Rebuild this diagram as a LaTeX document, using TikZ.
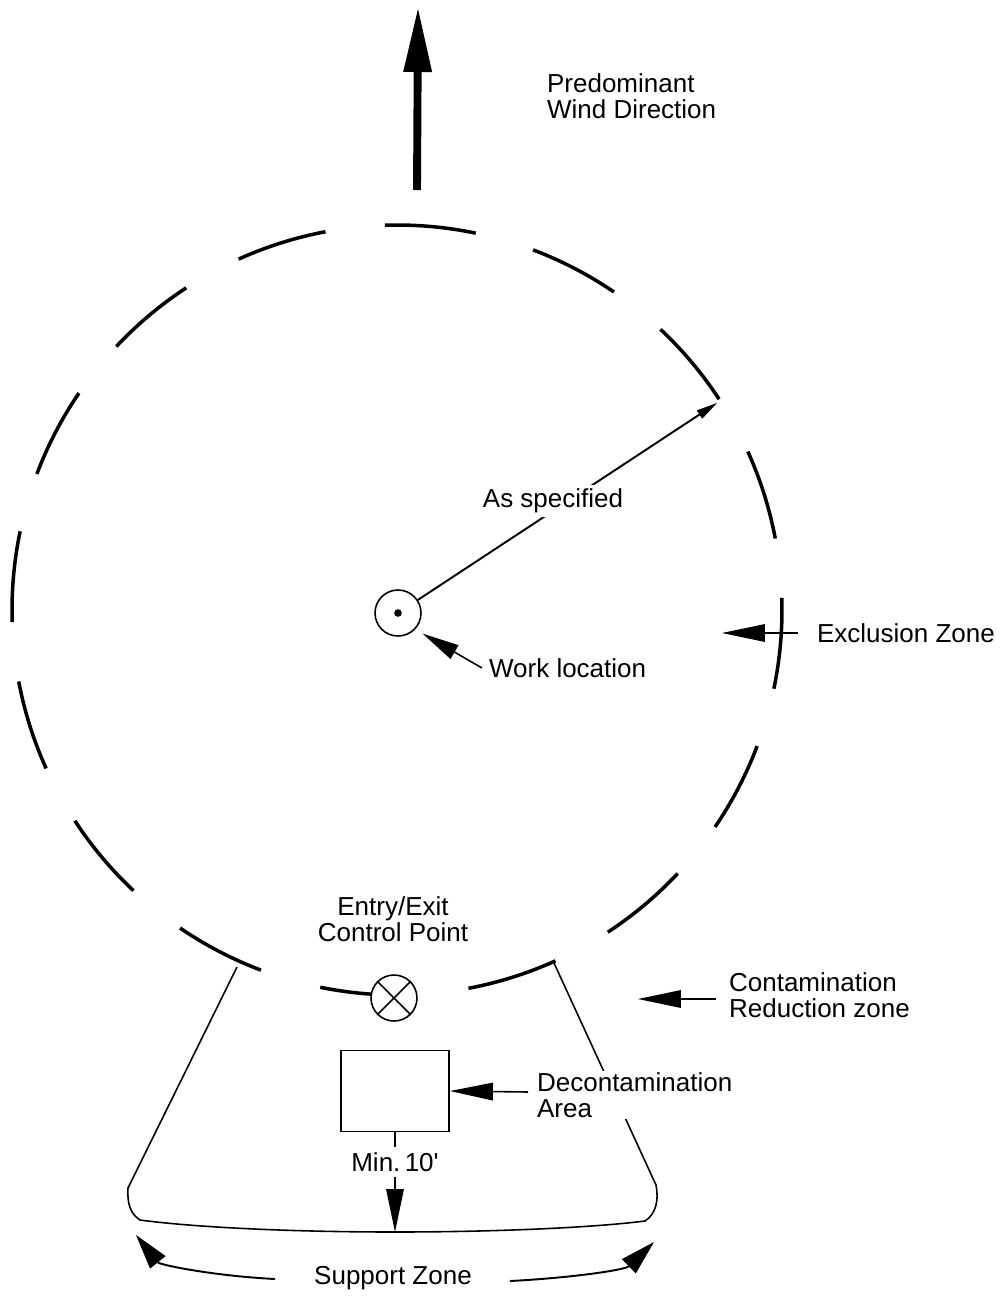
\documentclass[tikz,border=0pt]{standalone}
\usepackage{fontspec}
\setmainfont{Liberation Sans}
\usetikzlibrary{calc,positioning,arrows.meta}
\begin{document}
\begin{tikzpicture}[x=0.02cm,y=0.02cm,
    lbl/.style={font=\fontsize{14.8}{14.6}\selectfont,align=left,inner sep=1pt},
    zone/.style={line width=2pt},
    edge/.style={line width=0.9pt},
    ptr/.style={edge,-{Triangle[length=0.86cm,width=0.36cm,line width=0pt]}},
    sptr/.style={line width=1.1pt,-{Triangle[length=0.7cm,width=0.4cm,line width=0pt]}}]
    \useasboundingbox (0,0) rectangle (1005,-1299);
    \coordinate (wbase) at (417,-190);
    \coordinate (wtip) at (418,-9);
    \draw[line width=4.5pt,-{Triangle[length=1.26cm,width=0.58cm,line width=0pt]}] (wbase) -- (wtip);
    \node[lbl,anchor=west] (wind) at (545,-96) {Predominant\\Wind Direction};
    \coordinate (c) at (397,-610);
    \foreach \a in {17.5,40,62.5,85,107.5,130,152.5,175,197.5,220,242.5,287.5,310,332.5,355}
        \draw[zone] ($(c)+(\a-6.8:385)$) arc[start angle=\a-6.8,end angle=\a+6.8,radius=385];
    \draw[zone] ($(c)+(258.5:385)$) arc[start angle=258.5,end angle=268,radius=385];
    \coordinate (lt) at (237,-967);
    \coordinate (rt) at (554,-963);
    \draw[edge] (lt) -- (128,-1188) .. controls (127,-1205) and (131,-1214) .. (140,-1220)
        .. controls (200,-1228) and (300,-1232) .. (395,-1232)
        .. controls (490,-1232) and (590,-1228) .. (645,-1221)
        .. controls (656,-1214) and (659,-1200) .. (656,-1185) -- (rt);
    \node[draw,circle,edge,minimum size=0.92cm,inner sep=0pt] (wl) at (398,-613) {};
    \fill (wl.center) circle[radius=3.8];
    \coordinate (rtip) at (717,-403);
    \draw[line width=1.1pt,-{Triangle[length=0.42cm,width=0.2cm,line width=0pt]}] (wl) -- (rtip);
    \node[lbl,fill=white,inner sep=2pt] (spec) at (553,-501) {As specified};
    \node[lbl,anchor=west] (wlt) at (487,-668) {Work location};
    \draw[edge,-{Triangle[length=0.74cm,width=0.32cm,line width=0pt]}] ($(wlt.west)+(-5,0)$) -- ($(wl)+(-40:32)$);
    \node[lbl,anchor=west] (ez) at (815,-633) {Exclusion Zone};
    \coordinate (eztip) at (722,-633);
    \draw[ptr] ($(ez.west)+(-17,0)$) -- (eztip);
    \node[lbl,align=center] (cpt) at (393,-919) {Entry/Exit\\Control Point};
    \node[draw,circle,edge,fill=white,minimum size=0.92cm,inner sep=0pt] (cp) at (394,-998) {};
    \draw[edge] (cp.45) -- (cp.225) (cp.135) -- (cp.-45);
    \node[lbl,anchor=west] (crz) at (727,-995) {Contamination\\Reduction zone};
    \coordinate (crtip) at (638,-999);
    \draw[ptr] ($(crz.west)+(-11,-4)$) -- (crtip);
    \node[draw,line width=1.1pt,minimum width=2.16cm,minimum height=1.62cm] (deco) at (395,-1091) {};
    \node[lbl,anchor=west,fill=white] (dect) at (535,-1095) {Decontamination\\Area};
    \draw[ptr] ($(dect.west)+(-7,3)$) -- (deco.east);
    \coordinate (mtip) at (395,-1232);
    \draw[ptr] (deco.south) -- (mtip);
    \node[lbl,fill=white,inner sep=3pt] (min) at (395,-1162) {Min.\,10\textquotesingle};
    \node[lbl] (sz) at (393,-1278) {Support Zone};
    \coordinate (sl) at (136,-1235);
    \coordinate (sr) at (654,-1242);
    \draw[sptr] ($(sz.west)+(-37,-1)$) .. controls (215,-1276) and (160,-1265) .. (sl);
    \draw[sptr] ($(sz.east)+(36,-3)$) .. controls (570,-1278) and (625,-1270) .. (sr);
\end{tikzpicture}
\end{document}
